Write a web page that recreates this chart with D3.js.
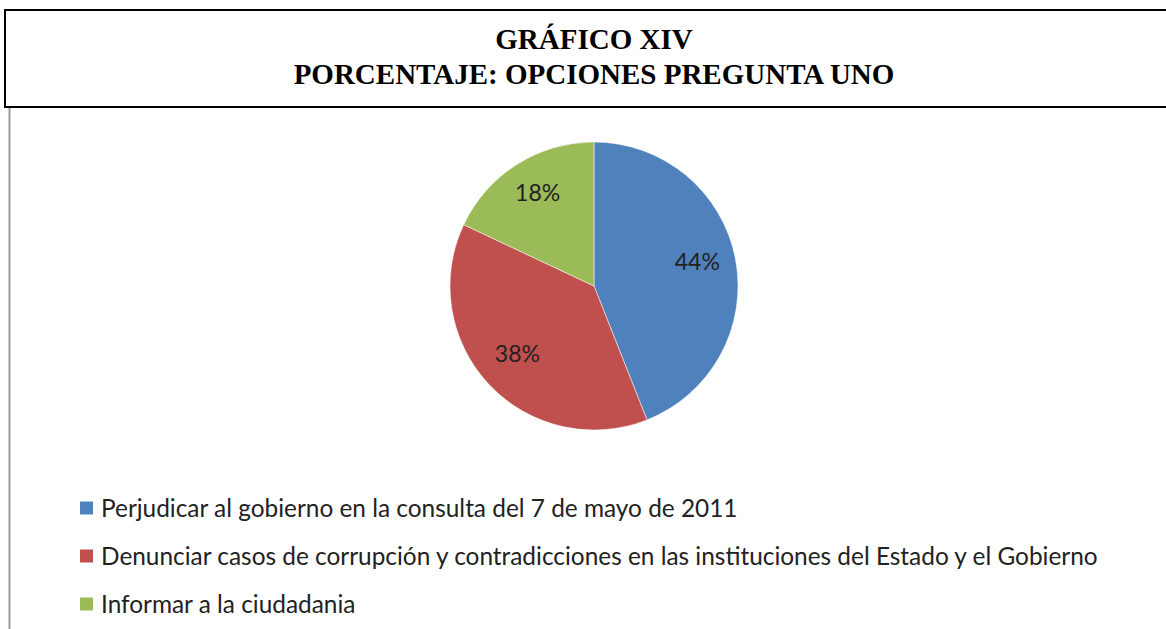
<!DOCTYPE html>
<html>
<head>
<meta charset="utf-8">
<script src="https://cdn.jsdelivr.net/npm/d3@7"></script>
<style>
  html, body { margin: 0; padding: 0; background: #fff; }
  svg { display: block; }
</style>
</head>
<body>
<svg id="chart" width="1166" height="629"></svg>
<script>
const titleLines = ["GRÁFICO XIV", "PORCENTAJE: OPCIONES PREGUNTA UNO"];
const categories = [
  "Perjudicar al gobierno en la consulta del 7 de mayo de 2011",
  "Denunciar casos de corrupción y contradicciones en las instituciones del Estado y el Gobierno",
  "Informar a la ciudadania"
];
const values = [44, 38, 18];
const colors = ["#4f81bd", "#c0504d", "#9bbb59"];

const svg = d3.select("#chart");
const W = 1166, H = 629;

// title box
svg.append("rect").attr("x", 5).attr("y", 10).attr("width", W + 10).attr("height", 97)
  .attr("fill", "#fff").attr("stroke", "#000").attr("stroke-width", 2);
svg.selectAll("text.title").data(titleLines).join("text")
  .attr("class", "title")
  .attr("x", 594).attr("y", (d, i) => 49 + i * 35)
  .attr("text-anchor", "middle")
  .attr("font-family", "'Liberation Serif', 'Times New Roman', serif")
  .attr("font-weight", "bold").attr("font-size", 29)
  .text(d => d);

// left gray border of chart area
svg.append("line").attr("x1", 9.5).attr("x2", 9.5).attr("y1", 108).attr("y2", H)
  .attr("stroke", "#999").attr("stroke-width", 2);

// pie
const cx = 594, cy = 286, r = 144;
const color = d3.scaleOrdinal().domain(categories).range(colors);
const pie = d3.pie().sort(null).value(d => d.v);
const data = categories.map((c, i) => ({ c, v: values[i] }));
const arcs = pie(data);
const arc = d3.arc().innerRadius(0).outerRadius(r);
const labelArc = d3.arc().innerRadius(r * 0.73).outerRadius(r * 0.73);
const g = svg.append("g").attr("transform", `translate(${cx},${cy})`);
g.selectAll("path").data(arcs).join("path")
  .attr("d", arc).attr("fill", d => color(d.data.c))
  .attr("stroke", "#fff").attr("stroke-width", 0.5);
const total = d3.sum(values);
g.selectAll("text").data(arcs).join("text")
  .attr("transform", d => { const [x, y] = labelArc.centroid(d); return `translate(${x},${y - 4})`; })
  .attr("text-anchor", "middle").attr("dy", "0.35em")
  .attr("font-family", "Lato, 'Open Sans', sans-serif").attr("font-size", 23)
  .attr("fill", "#222")
  .text(d => Math.round(d.data.v / total * 100) + "%");

// legend
const legY = d3.scalePoint().domain(categories).range([508, 604]);
const leg = svg.append("g");
const items = leg.selectAll("g").data(categories).join("g")
  .attr("transform", d => `translate(80,${legY(d)})`);
items.append("rect").attr("x", 0).attr("y", -6.5).attr("width", 13).attr("height", 13)
  .attr("fill", d => color(d));
items.append("text").attr("x", 21).attr("y", 0).attr("dy", "0.35em")
  .attr("font-family", "Lato, 'Open Sans', sans-serif").attr("font-size", 24.4)
  .attr("fill", "#222")
  .text(d => d);
</script>
</body>
</html>
